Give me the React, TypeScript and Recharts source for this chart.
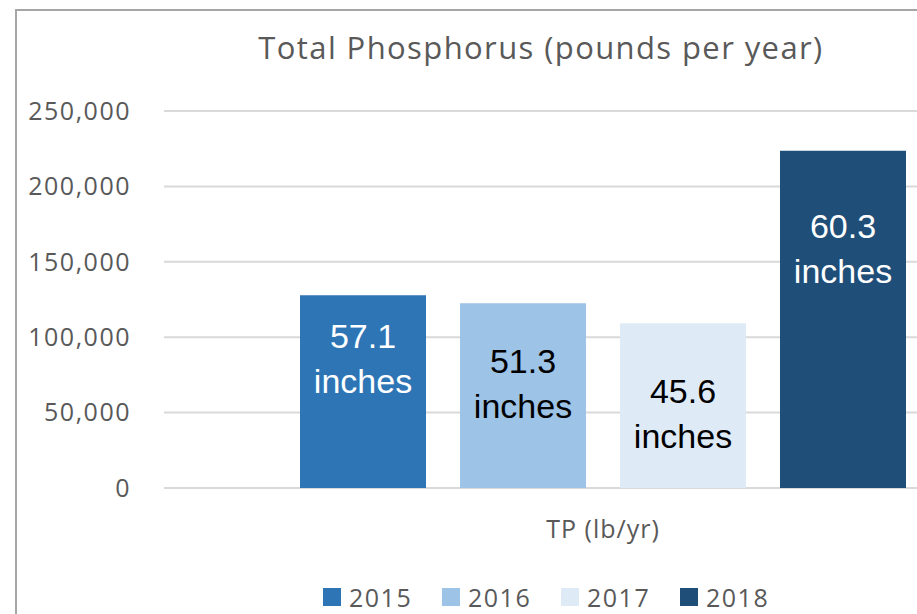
import React from "react";
import { BarChart, Bar, XAxis, YAxis, CartesianGrid, Legend, LabelList } from "recharts";

const categories = ["TP (lb/yr)"];
const years = ["2015", "2016", "2017", "2018"];
const tpValues = [127850, 122550, 109300, 223700];
const rainfallLabels = ["57.1", "51.3", "45.6", "60.3"];
const yTicks = [0, 50000, 100000, 150000, 200000, 250000];
const colors = ["#2E75B6", "#9DC3E6", "#DEEBF7", "#1F4E79"];
const labelColors = ["#FFFFFF", "#000000", "#000000", "#FFFFFF"];
const labelOffsets = [53, 70, 80, 87];

const data = categories.map((c) => {
  const row: Record<string, any> = { category: c };
  years.forEach((y, i) => {
    row["y" + y] = tpValues[i];
  });
  return row;
});

const AXIS_FONT = "'Open Sans', sans-serif";
const GRAY = "#595959";

const makeLabel = (i: number) => (props: any) => {
  const { x, y, width } = props;
  const cx = x + width / 2;
  const base = y + labelOffsets[i];
  return (
    <g>
      <text x={cx} y={base} textAnchor="middle" fill={labelColors[i]} fontFamily="'Liberation Sans', Arial, sans-serif" fontSize={34}>
        {rainfallLabels[i]}
      </text>
      <text x={cx} y={base + 45} textAnchor="middle" fill={labelColors[i]} fontFamily="'Liberation Sans', Arial, sans-serif" fontSize={34}>
        inches
      </text>
    </g>
  );
};

const LegendContent = () => (
  <div style={{ display: "flex", height: 34, alignItems: "center" }}>
    {years.map((y, i) => (
      <div key={y} style={{ width: 119, display: "flex", alignItems: "center" }}>
        <div style={{ width: 18, height: 18, background: colors[i], marginRight: 8 }} />
        <span style={{ fontFamily: AXIS_FONT, fontSize: 25, letterSpacing: 1.5, color: GRAY, lineHeight: "34px" }}>{y}</span>
      </div>
    ))}
  </div>
);

export default function App() {
  return (
    <div style={{ position: "absolute", left: 0, top: 0, width: 917, height: 614, overflow: "hidden", background: "#fff" }}>
      <div style={{ position: "absolute", left: 15, top: 9, width: 1200, height: 800, borderLeft: "2px solid #A6A6A6", borderTop: "2px solid #A6A6A6" }} />
      <div
        style={{
          position: "absolute",
          left: 541,
          top: 27,
          transform: "translateX(-50%)",
          whiteSpace: "nowrap",
          fontFamily: AXIS_FONT,
          fontSize: 31,
          letterSpacing: 1.4,
          color: GRAY,
          lineHeight: "40px",
        }}
      >
        Total Phosphorus (pounds per year)
      </div>
      <div style={{ position: "absolute", left: 0, top: 0 }}>
        <BarChart
          width={1060}
          height={614}
          data={data}
          margin={{ top: 111, right: 18, bottom: 0, left: 0 }}
          barSize={126}
          barGap={34}
        >
          <CartesianGrid horizontal={true} vertical={false} stroke="#D9D9D9" strokeWidth={2} />
          <XAxis
            dataKey="category"
            height={92}
            axisLine={false}
            tickLine={false}
            tickSize={0}
            tickMargin={32}
            tick={{ fill: GRAY, fontSize: 25, fontFamily: AXIS_FONT, letterSpacing: 1 }}
          />
          <YAxis
            width={164}
            domain={[0, 250000]}
            ticks={yTicks}
            interval={0}
            axisLine={false}
            tickLine={false}
            tickSize={0}
            tickMargin={33}
            tickFormatter={(v: number) => v.toLocaleString("en-US")}
            tick={{ fill: GRAY, fontSize: 25, fontFamily: AXIS_FONT, letterSpacing: 1.5 }}
          />
          <Legend
            verticalAlign="bottom"
            align="left"
            height={34}
            content={<LegendContent />}
            wrapperStyle={{ left: 323, width: 480, height: 34 }}
          />
          {years.map((y, i) => (
            <Bar key={y} dataKey={"y" + y} name={y} fill={colors[i]} isAnimationActive={false}>
              <LabelList dataKey={"y" + y} content={makeLabel(i)} />
            </Bar>
          ))}
        </BarChart>
      </div>
    </div>
  );
}
